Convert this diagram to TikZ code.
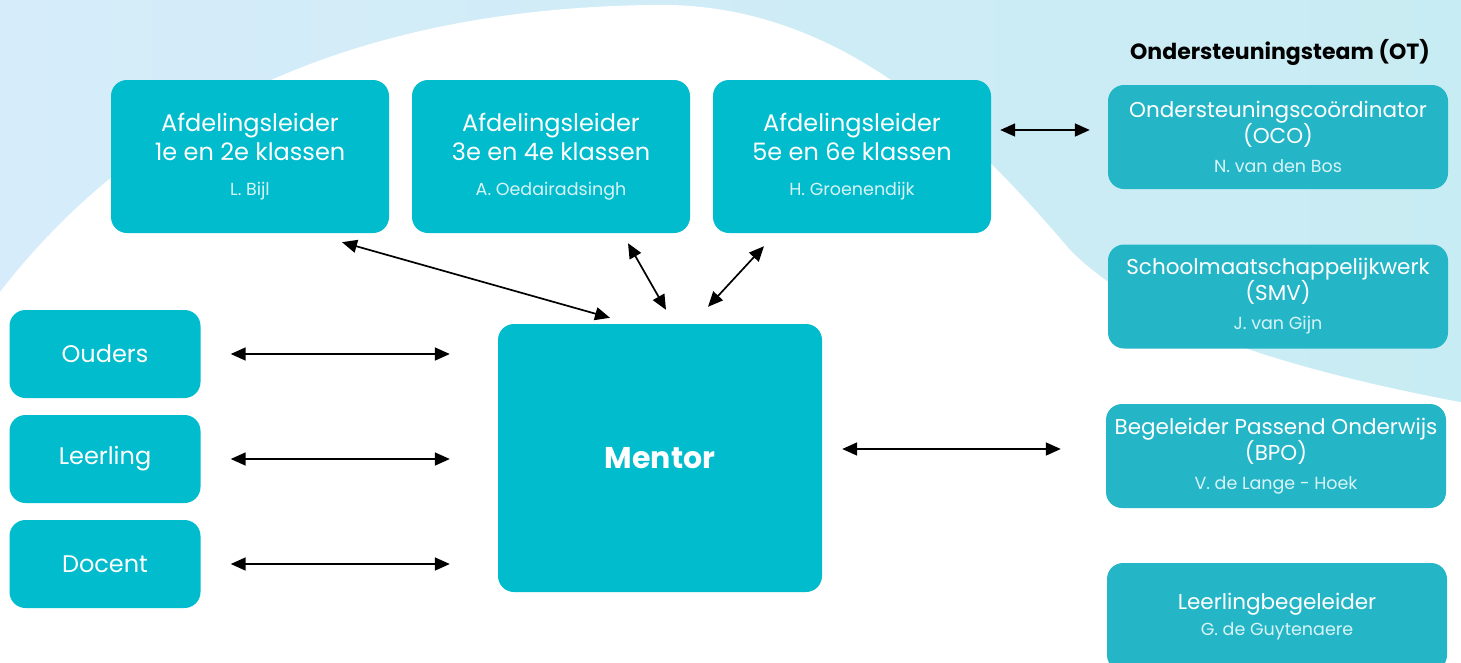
\documentclass[tikz,border=0pt]{standalone}
\usepackage{fontspec}
\setmainfont{Poppins}
\usepackage{tikz}
\usetikzlibrary{arrows.meta}

\definecolor{boxteal}{HTML}{00BCCD}
\definecolor{otteal}{HTML}{24B6C7}
\definecolor{skyleft}{HTML}{D6ECFA}
\definecolor{skyright}{HTML}{C8ECF3}
\definecolor{subtext}{HTML}{D9F4F7}

\newcommand{\who}[1]{{\fontsize{17.5}{20}\selectfont\color{subtext}#1}}

\begin{document}
\begin{tikzpicture}
    [   x=1pt, y=-1pt,
        box/.style={fill=#1, rounded corners=16pt, text=white, align=center,
            font=\fontsize{24}{29}\selectfont, inner sep=0pt},
        box/.default=boxteal,
        afd/.style={box, minimum width=278pt, minimum height=153pt},
        side/.style={box, minimum width=191pt, minimum height=88pt},
        ot/.style={box=otteal, minimum width=340pt, minimum height=104pt,
            font=\fontsize{21.5}{26}\selectfont},
        link/.style={{Triangle[length=15pt,width=13pt]}-{Triangle[length=15pt,width=13pt]}, line width=1.7pt},
    ]
        \useasboundingbox (0,0) rectangle (1461,662);
        \clip (0,0) rectangle (1461,662);

        % background with the white hill
        \shade[left color=skyleft, right color=skyright] (-5,-5) rectangle (1466,667);
        \fill[white] (0,292) .. controls (110,150) and (300,10) .. (650,5)
            .. controls (830,0) and (960,120) .. (1070,250)
            .. controls (1150,330) and (1300,372) .. (1470,404)
            -- (1470,672) -- (-10,672) -- (-10,300) -- cycle;

        % draw the nodes
        \node[afd] (al1) at (250,156.5) {Afdelingsleider\\1e en 2e klassen\\[6pt]\who{L. Bijl}};
        \node[afd] (al2) at (551,156.5) {Afdelingsleider\\3e en 4e klassen\\[6pt]\who{A. Oedairadsingh}};
        \node[afd] (al3) at (852,156.5) {Afdelingsleider\\5e en 6e klassen\\[6pt]\who{H. Groenendijk}};

        \node[side] (ouders) at (105,354) {Ouders};
        \node[side] (leerling) at (105,459) {Leerling};
        \node[side] (docent) at (105,564) {Docent};

        \node[box, minimum width=324pt, minimum height=268pt,
            font=\fontsize{30}{34}\selectfont\bfseries] (mentor) at (660,458) {Mentor};

        \node[font=\fontsize{22}{26}\selectfont\bfseries] (otitle) at (1280,52) {Ondersteuningsteam (OT)};
        \node[ot] (oco) at (1278,137) {Ondersteuningscoördinator\\(OCO)\\[3pt]\who{N. van den Bos}};
        \node[ot] (smv) at (1278,296.5) {Schoolmaatschappelijkwerk\\(SMV)\\[3pt]\who{J. van Gijn}};
        \node[ot] (bpo) at (1276,456) {Begeleider Passend Onderwijs\\(BPO)\\[3pt]\who{V. de Lange - Hoek}};
        \node[ot, minimum height=108pt] (lb) at (1277,617) {Leerlingbegeleider\\\who{G. de Guytenaere}};

        % draw the lines
        \draw[link] ([xshift=92pt,yshift=-9pt]al1.south) -- ([xshift=-50pt,yshift=6pt]mentor.north);
        \draw[link] ([xshift=77pt,yshift=-10pt]al2.south) -- ([xshift=6pt,yshift=14pt]mentor.north);
        \draw[link] ([xshift=-88pt,yshift=-13pt]al3.south) -- ([xshift=48pt,yshift=17pt]mentor.north);
        \draw[link] ([xshift=9pt,yshift=26.5pt]al3.east) -- ([xshift=-18pt,yshift=7pt]oco.west);
        \draw[link, shorten <=30pt, shorten >=48pt] (ouders.east) -- (ouders -| mentor.west);
        \draw[link, shorten <=30pt, shorten >=48pt] (leerling.east) -- (leerling -| mentor.west);
        \draw[link, shorten <=30pt, shorten >=48pt] (docent.east) -- (docent -| mentor.west);
        \draw[link] ([xshift=20pt,yshift=9pt]mentor.east) -- ([xshift=-45pt,yshift=7pt]bpo.west);
    \end{tikzpicture}
\end{document}
